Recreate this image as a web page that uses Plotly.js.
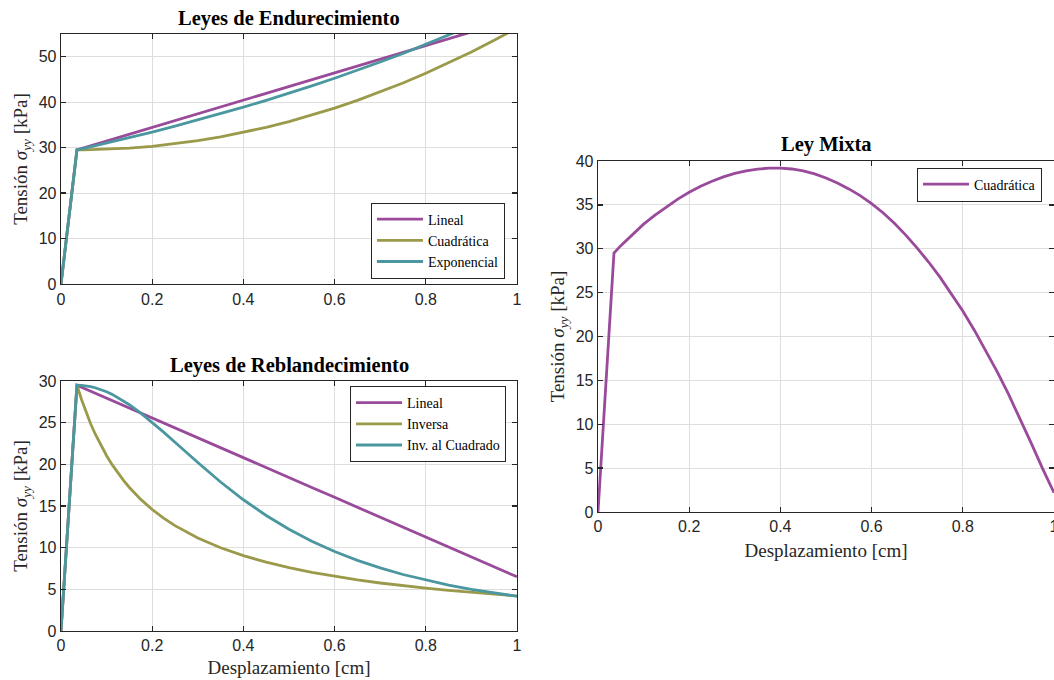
<!DOCTYPE html>
<html>
<head>
<meta charset="utf-8">
<script src="https://cdn.plot.ly/plotly-3.0.1.min.js"></script>
<style>
  html, body { margin: 0; padding: 0; background: #fff; }
  #chart { width: 1054px; height: 680px; }
</style>
</head>
<body>
<div id="chart"></div>
<script>
// ---- Leyes de Endurecimiento (desplazamiento [cm], tensión [kPa]) ----
const xEndurecimiento = [0, 0.035, 0.05, 0.1, 0.15, 0.2, 0.25, 0.3, 0.35, 0.4, 0.45, 0.5,
  0.55, 0.6, 0.65, 0.7, 0.75, 0.8, 0.85, 0.9, 0.95, 1.0];
const endLineal = [0, 29.5, 29.95, 31.45, 32.95, 34.45, 35.95, 37.45, 38.95, 40.45, 41.95, 43.45,
  44.95, 46.45, 47.95, 49.45, 50.95, 52.45, 53.95, 55.45, 56.95, 58.45];
const endCuadratica = [0, 29.5, 29.51, 29.62, 29.88, 30.28, 30.83, 31.52, 32.36, 33.34, 34.46, 35.73,
  37.14, 38.69, 40.39, 42.24, 44.22, 46.35, 48.63, 51.05, 53.61, 56.32];
const endExponencial = [0, 29.5, 29.84, 30.99, 32.19, 33.43, 34.72, 36.06, 37.46, 38.90, 40.41, 41.97,
  43.59, 45.27, 47.02, 48.84, 50.72, 52.68, 54.72, 56.83, 59.03, 61.31];

// ---- Leyes de Reblandecimiento ----
const xReblandecimiento = [0, 0.035, 0.045, 0.055, 0.065, 0.075, 0.0875, 0.1, 0.1125, 0.125, 0.1375,
  0.15, 0.175, 0.2, 0.225, 0.25, 0.275, 0.3, 0.35, 0.4, 0.45, 0.5, 0.55, 0.6, 0.65, 0.7, 0.75, 0.8,
  0.85, 0.9, 0.95, 1.0];
const rebLineal = [0, 29.5, 29.26, 29.02, 28.78, 28.55, 28.25, 27.95, 27.65, 27.36, 27.06,
  26.76, 26.16, 25.57, 24.97, 24.38, 23.78, 23.19, 21.99, 20.80, 19.61, 18.42, 17.23, 16.04, 14.84,
  13.65, 12.46, 11.27, 10.08, 8.89, 7.70, 6.50];
const rebInversa = [0, 29.5, 27.78, 26.25, 24.87, 23.64, 22.27, 21.03, 19.93, 18.93, 18.04,
  17.22, 15.79, 14.58, 13.54, 12.64, 11.86, 11.16, 9.99, 9.04, 8.26, 7.60, 7.04, 6.55, 6.13,
  5.76, 5.43, 5.14, 4.87, 4.64, 4.42, 4.22];
const rebInvCuadrado = [0, 29.5, 29.48, 29.42, 29.33, 29.19, 28.98, 28.71, 28.39, 28.01, 27.60,
  27.15, 26.14, 25.04, 23.86, 22.64, 21.42, 20.21, 17.88, 15.75, 13.86, 12.21, 10.78, 9.54, 8.48,
  7.57, 6.78, 6.10, 5.51, 5.00, 4.55, 4.16];

// ---- Ley Mixta ----
const xMixta = [0, 0.035, 0.05, 0.075, 0.1, 0.125, 0.15, 0.175, 0.2, 0.225, 0.25, 0.275, 0.3,
  0.325, 0.35, 0.375, 0.4, 0.425, 0.45, 0.475, 0.5, 0.525, 0.55, 0.575, 0.6, 0.625, 0.65, 0.675,
  0.7, 0.725, 0.75, 0.775, 0.8, 0.825, 0.85, 0.875, 0.9, 0.925, 0.95, 0.975, 1.0];
const mixtaCuadratica = [0, 29.5, 30.35, 31.6, 32.8, 33.82, 34.79, 35.66, 36.43, 37.12, 37.70, 38.19, 38.58,
  38.88, 39.08, 39.18, 39.19, 39.09, 38.87, 38.53, 38.07, 37.5, 36.82, 36.05, 35.15, 34.1, 32.9, 31.55,
  30.07, 28.49, 26.76, 24.9, 22.9, 20.75, 18.46, 16.03, 13.45, 10.72, 7.84, 4.95, 2.2];

// Series names and colours
const namesEnd = ['Lineal', 'Cuadrática', 'Exponencial'];
const namesReb = ['Lineal', 'Inversa', 'Inv. al Cuadrado'];
const nameMixta = 'Cuadrática';
const colors = ['#9a4a9a', '#9a9a4a', '#4a97a0'];

const serif = '"Liberation Serif", "Times New Roman", serif';
const sans = '"Liberation Sans", Arial, sans-serif';
const ink = '#262626';
const yTitle = 'Tensión <i>σ</i><sub><i>yy</i></sub> [kPa]';
const xTitle = 'Desplazamiento [cm]';

function line(x, y, name, color, xa, ya, legend) {
  return {
    type: 'scatter', mode: 'lines', x: x, y: y, name: name,
    xaxis: xa, yaxis: ya, legend: legend,
    line: { color: color, width: 2.8 },
    hoverinfo: 'x+y+name'
  };
}

const data = [
  line(xEndurecimiento, endLineal, namesEnd[0], colors[0], 'x', 'y', 'legend'),
  line(xEndurecimiento, endCuadratica, namesEnd[1], colors[1], 'x', 'y', 'legend'),
  line(xEndurecimiento, endExponencial, namesEnd[2], colors[2], 'x', 'y', 'legend'),
  line(xReblandecimiento, rebLineal, namesReb[0], colors[0], 'x2', 'y2', 'legend2'),
  line(xReblandecimiento, rebInversa, namesReb[1], colors[1], 'x2', 'y2', 'legend2'),
  line(xReblandecimiento, rebInvCuadrado, namesReb[2], colors[2], 'x2', 'y2', 'legend2'),
  line(xMixta, mixtaCuadratica, nameMixta, colors[0], 'x3', 'y3', 'legend3')
];

function axis(extra) {
  return Object.assign({
    showline: true, mirror: 'ticks', linecolor: ink, linewidth: 1.3,
    ticks: 'inside', ticklen: 5, tickwidth: 1.3, tickcolor: ink,
    showgrid: true, gridcolor: '#dedede', gridwidth: 1, zeroline: false,
    tickfont: { family: sans, size: 16, color: ink },
    ticklabeloverflow: 'allow',
    fixedrange: true
  }, extra);
}

function legendBox(x, yMid) {
  return {
    x: x, y: yMid, xanchor: 'right', yanchor: 'middle', xref: 'paper', yref: 'paper',
    bgcolor: '#ffffff', bordercolor: ink, borderwidth: 1,
    font: { family: serif, size: 14, color: '#000' },
    itemwidth: 46, tracegroupgap: 0
  };
}

function subplotTitle(text, x, y) {
  return {
    text: '<b>' + text + '</b>', x: x, y: y, xref: 'paper', yref: 'paper',
    xanchor: 'center', yanchor: 'middle', showarrow: false,
    font: { family: serif, size: 20.5, color: '#000' }
  };
}

const titleFont = { family: serif, size: 19, color: ink };

const layout = {
  width: 1054, height: 680,
  margin: { l: 0, r: 0, t: 0, b: 0 },
  paper_bgcolor: '#ffffff', plot_bgcolor: '#ffffff',
  showlegend: true,
  xaxis: axis({ domain: [0.05787, 0.49051], range: [0, 1], dtick: 0.2, anchor: 'y' }),
  yaxis: axis({ domain: [0.58235, 0.95], range: [0, 55], dtick: 10, anchor: 'x',
    title: { text: yTitle, font: titleFont, standoff: 6 } }),
  xaxis2: axis({ domain: [0.05787, 0.49051], range: [0, 1], dtick: 0.2, anchor: 'y2',
    title: { text: xTitle, font: titleFont, standoff: 7 } }),
  yaxis2: axis({ domain: [0.07206, 0.43971], range: [0, 30], dtick: 5, anchor: 'x2',
    title: { text: yTitle, font: titleFont, standoff: 6 } }),
  xaxis3: axis({ domain: [0.56736, 1], range: [0, 1], dtick: 0.2, anchor: 'y3',
    title: { text: xTitle, font: titleFont, standoff: 9 } }),
  yaxis3: axis({ domain: [0.24706, 0.76324], range: [0, 40], dtick: 5, anchor: 'x3',
    title: { text: yTitle, font: titleFont, standoff: 6 } }),
  legend: legendBox(0.4791, 1 - 240.5 / 680),
  legend2: legendBox(0.4801, 1 - 424 / 680),
  legend3: legendBox(0.9886, 1 - 184.5 / 680),
  annotations: [
    subplotTitle('Leyes de Endurecimiento', 0.2742, 0.9721),
    subplotTitle('Leyes de Reblandecimiento', 0.2742, 0.4618),
    subplotTitle('Ley Mixta', 0.7837, 0.7868)
  ]
};

Plotly.newPlot('chart', data, layout, { displayModeBar: false, staticPlot: true });
</script>
</body>
</html>
